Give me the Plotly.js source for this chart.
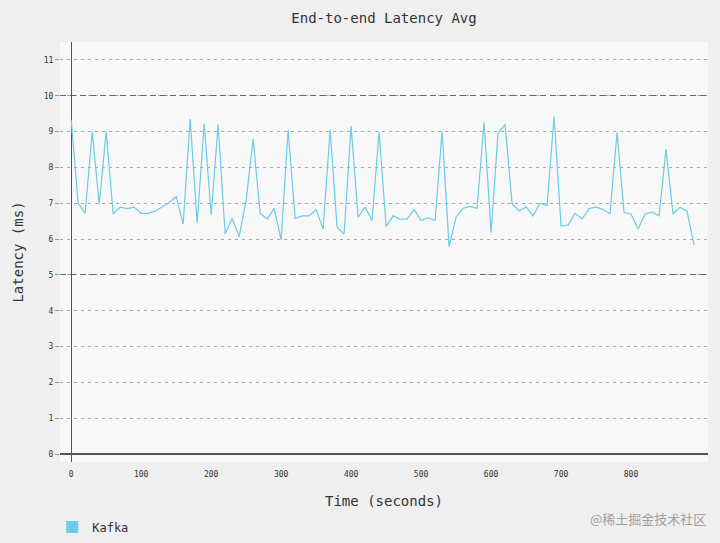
<!DOCTYPE html>
<html>
<head>
<meta charset="utf-8">
<script src="https://cdn.plot.ly/plotly-3.0.1.min.js"></script>
<style>html,body{margin:0;padding:0;background:#efefef;}#chart{width:720px;height:543px;}</style>
</head>
<body>
<div id="chart"></div>
<script>
const seriesName = "Kafka";
const timeSeconds = [0,10,20,30,40,50,60,70,80,90,100,110,120,130,140,150,160,170,180,190,200,210,220,230,240,250,260,270,280,290,300,310,320,330,340,350,360,370,380,390,400,410,420,430,440,450,460,470,480,490,500,510,520,530,540,550,560,570,580,590,600,610,620,630,640,650,660,670,680,690,700,710,720,730,740,750,760,770,780,790,800,810,820,830,840,850,860,870,880,890];
const latencyMs = [9.33,7.0,6.72,9.0,6.97,9.0,6.7,6.89,6.85,6.89,6.72,6.72,6.78,6.9,7.02,7.19,6.42,9.35,6.44,9.22,6.68,9.2,6.14,6.58,6.07,7.09,8.79,6.72,6.56,6.86,5.98,9.05,6.58,6.65,6.65,6.82,6.28,9.05,6.33,6.14,9.16,6.61,6.89,6.52,9.0,6.35,6.65,6.56,6.56,6.83,6.52,6.6,6.52,9.0,5.79,6.61,6.86,6.91,6.86,9.26,6.18,8.96,9.2,7.0,6.78,6.9,6.65,7.0,6.93,9.42,6.37,6.39,6.72,6.56,6.85,6.89,6.83,6.71,8.98,6.75,6.7,6.28,6.7,6.75,6.65,8.51,6.7,6.89,6.78,5.84];
const yTicks = [0,1,2,3,4,5,6,7,8,9,10,11];
const xTicks = [0,100,200,300,400,500,600,700,800];
const majorGrid = [5,10];

const mono = "DejaVu Sans Mono, monospace";
const lineColor = "#6ccbe6";

const traces = [
  {type:"scatter", mode:"lines", x:timeSeconds, y:latencyMs, name:seriesName, showlegend:false,
   line:{color:lineColor, width:1.2}, hoverinfo:"x+y"},
  {type:"bar", x:[null], y:[null], name:seriesName, marker:{color:lineColor}, showlegend:true},
  {type:"scatter", mode:"lines", x:[null], y:[null], yaxis:"y2", showlegend:false, hoverinfo:"skip"}
];

const layout = {
  width:720, height:543,
  paper_bgcolor:"#efefef", plot_bgcolor:"#f8f8f9",
  margin:{l:60, r:12, t:42, b:81, autoexpand:false},
  font:{family:mono, color:"#333"},
  title:{text:"End-to-end Latency Avg", x:0.5, xref:"paper", y:0.967, yanchor:"middle",
         font:{family:mono, size:14, color:"#333"}},
  xaxis:{range:[-16,910], tickvals:xTicks, ticktext:xTicks.map(String), automargin:false,
         tickfont:{family:mono, size:8, color:"#333"}, ticks:"outside", ticklen:4, tickcolor:"rgba(0,0,0,0)",
         showgrid:false, zeroline:true, zerolinecolor:"#555", zerolinewidth:1.3, showline:false,
         title:{text:"Time (seconds)", font:{family:mono, size:14, color:"#333"}, standoff:18}},
  yaxis:{range:[-0.22,11.5], tickvals:yTicks, ticktext:yTicks.map(String), automargin:false,
         tickfont:{family:mono, size:8, color:"#333"}, ticks:"outside", ticklen:4, tickcolor:"#999",
         showgrid:true, gridcolor:"#a8a8a8", griddash:"3px,4px", gridwidth:1,
         zeroline:true, zerolinecolor:"#555", zerolinewidth:1.3, showline:false,
         title:{text:"Latency (ms)", font:{family:mono, size:14, color:"#333"}, standoff:16}},
  yaxis2:{overlaying:"y", range:[-0.22,11.5], tickvals:majorGrid, showticklabels:false, automargin:false,
          showgrid:true, gridcolor:"#666", griddash:"6px,4px", gridwidth:1, zeroline:false, ticks:""},
  showlegend:true,
  legend:{x:-0.012, xanchor:"left", y:-0.155, yanchor:"middle", orientation:"h", itemwidth:30,
          bgcolor:"rgba(0,0,0,0)", font:{family:mono, size:12, color:"#333"}},
  annotations:[{text:"@稀土掘金技术社区", xref:"paper", yref:"paper", x:1.0, xanchor:"right",
                y:-0.135, yanchor:"middle", showarrow:false,
                font:{family:"Noto Sans CJK SC", size:13, color:"#a0a0a0"}}],
  bargap:0.5
};

Plotly.newPlot("chart", traces, layout, {displayModeBar:false, staticPlot:true});
</script>
</body>
</html>
